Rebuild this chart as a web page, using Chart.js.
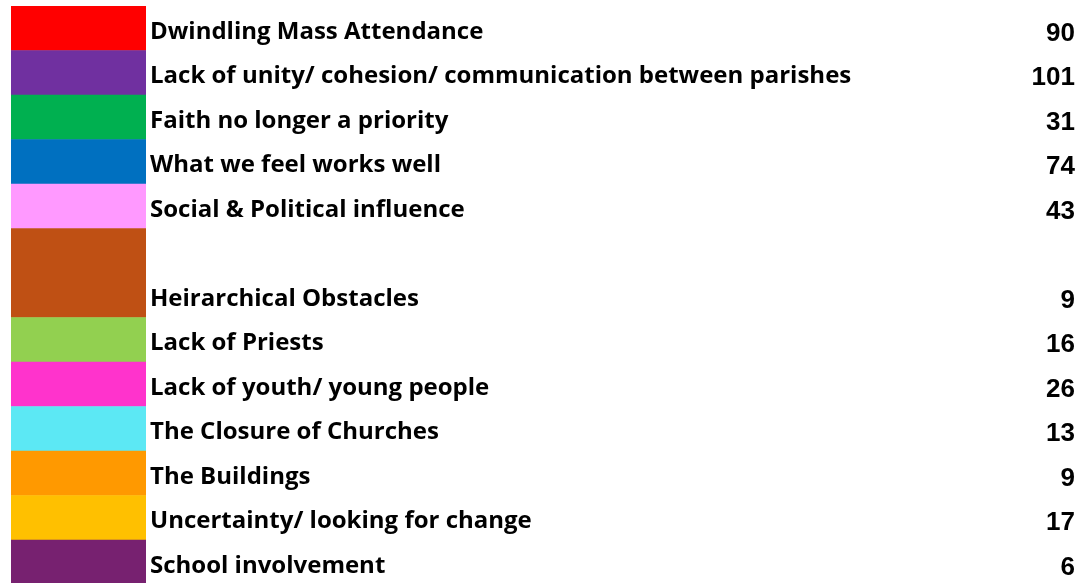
<!DOCTYPE html>
<html>
<head>
<meta charset="utf-8">
<script src="https://cdn.jsdelivr.net/npm/chart.js@4"></script>
<style>
  html, body { margin: 0; padding: 0; background: #fff; overflow: hidden; }
  #wrap { width: 1086px; height: 585px; position: relative; }
</style>
</head>
<body>
<div id="wrap"><canvas id="tabla"></canvas></div>
<script>
// categorias, valores y colores de la tabla
const categorias = [
  'Dwindling Mass Attendance',
  'Lack of unity/ cohesion/ communication between parishes',
  'Faith no longer a priority',
  'What we feel works well',
  'Social & Political influence',
  'Heirarchical Obstacles',
  'Lack of Priests',
  'Lack of youth/ young people',
  'The Closure of Churches',
  'The Buildings',
  'Uncertainty/ looking for change',
  'School involvement'
];
const valores = [90, 101, 31, 74, 43, 9, 16, 26, 13, 9, 17, 6];
const colores = [
  '#FF0000', '#7030A0', '#00B050', '#0070C0', '#FF99FF', '#BF5014',
  '#92D050', '#FF33CC', '#5CE8F4', '#FF9900', '#FFC000', '#772170'
];

// la fila "Heirarchical Obstacles" ocupa dos alturas: se mete una fila vacia encima
const filaDoble = 'Heirarchical Obstacles';
const etiquetas = [];
const numeros = [];
const fondo = [];
categorias.forEach((c, i) => {
  if (c === filaDoble) {
    etiquetas.push('');
    numeros.push(null);
    fondo.push(colores[i]);
  }
  etiquetas.push(c);
  numeros.push(valores[i]);
  fondo.push(colores[i]);
});

// texto de cada fila (etiqueta + numero)
const textoFilas = {
  id: 'textoFilas',
  afterDatasetsDraw(chart) {
    const ctx = chart.ctx;
    const barras = chart.getDatasetMeta(0).data;
    ctx.save();
    ctx.fillStyle = '#000';
    barras.forEach((bar, i) => {
      const abajo = bar.y + bar.height / 2;
      if (etiquetas[i]) {
        ctx.font = 'bold 24px "Open Sans"';
        ctx.textAlign = 'left';
        ctx.textBaseline = 'alphabetic';
        ctx.fillText(etiquetas[i], 150, abajo - 12);
      }
      if (numeros[i] !== null) {
        ctx.font = 'bold 26px "Liberation Sans"';
        ctx.textAlign = 'right';
        ctx.fillText(String(numeros[i]), 1075, abajo - 10);
      }
    });
    ctx.restore();
  }
};

const ctx = document.getElementById('tabla').getContext('2d');
new Chart(ctx, {
  type: 'bar',
  data: {
    labels: etiquetas,
    datasets: [{
      data: etiquetas.map(() => 1),
      backgroundColor: fondo,
      borderWidth: 0,
      barPercentage: 1,
      categoryPercentage: 1
    }]
  },
  options: {
    indexAxis: 'y',
    responsive: true,
    maintainAspectRatio: false,
    animation: false,
    layout: { padding: { left: 11, right: 940, top: 6, bottom: 0.5 } },
    scales: {
      x: { display: false, min: 0, max: 1 },
      y: { display: false }
    },
    plugins: {
      legend: { display: false },
      tooltip: { enabled: false }
    }
  },
  plugins: [textoFilas]
});
</script>
</body>
</html>
